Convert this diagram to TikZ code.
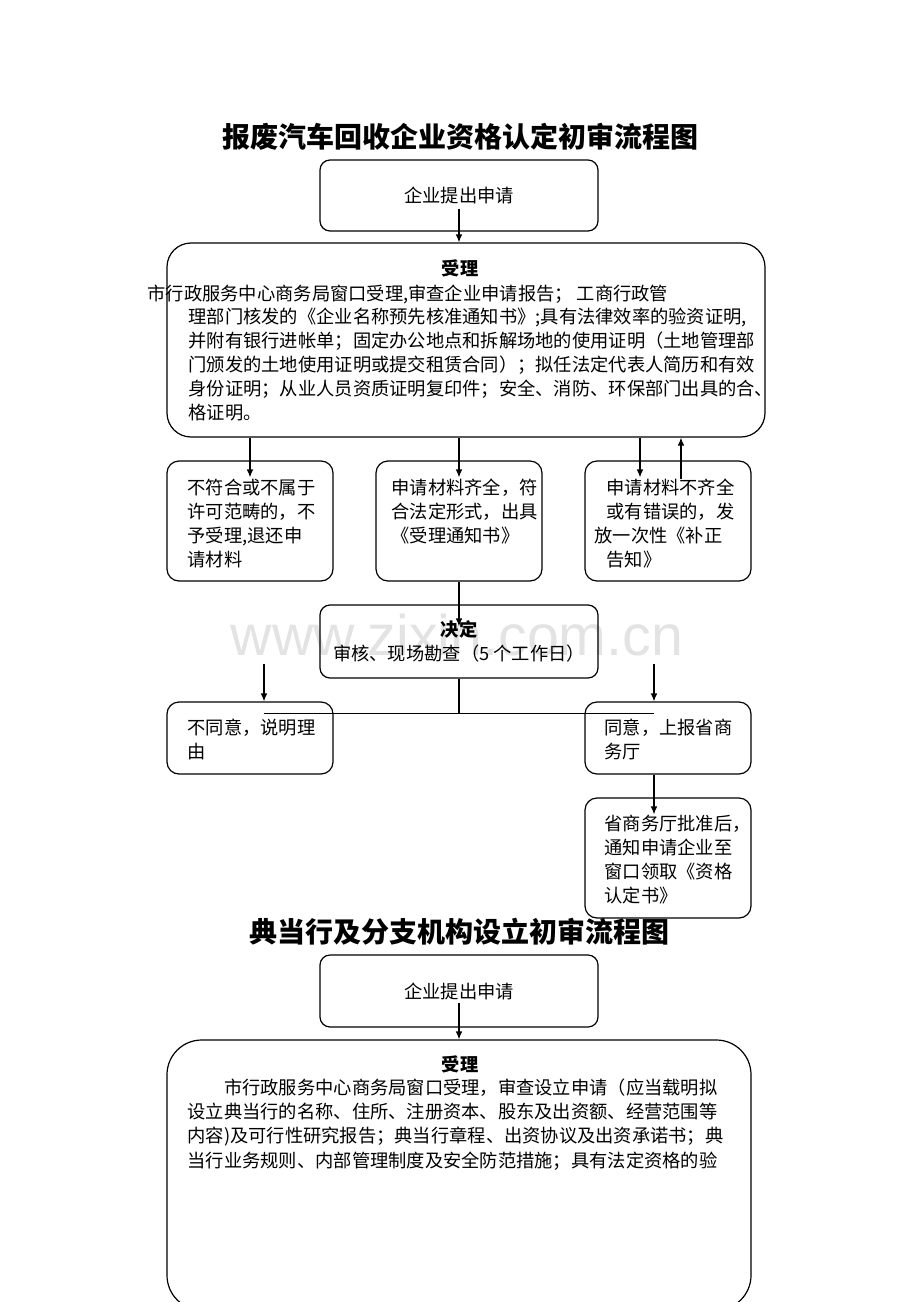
\documentclass[tikz,border=0pt]{standalone}
\usepackage{fontspec}
\setmainfont{Noto Sans CJK SC}
\newfontfamily\markfont{Liberation Sans}
\usetikzlibrary{calc,arrows.meta}

\tikzset{
  box/.style={draw, line width=0.9pt, rounded corners=9pt, inner sep=0pt},
  txt/.style={anchor=north west, inner sep=0pt, align=left, font=\fontsize{13.7}{18}\selectfont},
  head/.style={inner sep=0pt, font=\fontsize{13.7}{18}\selectfont},
  title/.style={inner sep=0pt, font=\fontsize{21}{24}\selectfont\bfseries},
}

\begin{document}
\begin{tikzpicture}[x=0.75pt, y=-0.75pt, >={Latex[length=6pt,width=5pt]}, line width=0.9pt]
\useasboundingbox (0,0) rectangle (920,1302);

% Watermark
\node[text=gray!22, font=\fontsize{43}{43}\selectfont\markfont] (mark) at (457,635) {www.zixin.com.cn};

% ---- First chart ----
\node[title] (title1) at (460,137) {报废汽车回收企业资格认定初审流程图};

% Application
\node[box, head, rounded corners=7.5pt, minimum width=208.5pt, minimum height=53.25pt]
    (apply1) at (459,195.5) {企业提出申请};

% Acceptance
\node[box, rounded corners=18pt, minimum width=448.5pt, minimum height=145.5pt]
    (accept1) at (466,340) {};
\node[head, font=\fontsize{13.7}{18}\selectfont\bfseries] (accepthead1) at (460,268) {受理};
\node[txt] (acceptline1) at (147,284) {市行政服务中心商务局窗口受理,审查企业申请报告； 工商行政管};
\node[txt] (acceptbody1) at (188,307)
{理部门核发的《企业名称预先核准通知书》;具有法律效率的验资证明,\\
并附有银行进帐单；固定办公地点和拆解场地的使用证明（土地管理部\\
门颁发的土地使用证明或提交租赁合同）；拟任法定代表人简历和有效\\
身份证明；从业人员资质证明复印件；安全、消防、环保部门出具的合、\\
格证明。};

\draw[->] ($(apply1.center)+(0,13)$) -- (accept1.north -| apply1);

% Three outcomes
\node[box, minimum width=124.5pt, minimum height=90pt] (reject1) at (250,521) {};
\node[box, minimum width=124.5pt, minimum height=90pt] (pass1) at (459,521) {};
\node[box, minimum width=124.5pt, minimum height=90pt] (fix1) at (668,521) {};

\node[txt] (rejecttxt1) at (187,478)
{不符合或不属于\\
许可范畴的，不\\
予受理,退还申\\
请材料};
\node[txt] (passtxt1) at (391,478)
{申请材料齐全，符\\
合法定形式，出具\\
《受理通知书》};
\node[txt] (fixtxt1) at (594,478)
{\hspace*{9pt}申请材料不齐全\\
\hspace*{9pt}或有错误的，发\\
放一次性《补正\\
\hspace*{9pt}告知》};

\coordinate (fixin1) at ($(fix1.north)+(-28,17)$);
\coordinate (fixout1) at ($(fix1.north)+(13,19)$);
\draw[->] (accept1.south -| reject1) -- ($(reject1.north)+(0,17)$);
\draw[->] (accept1.south -| pass1) -- ($(pass1.north)+(0,17)$);
\draw[->] (accept1.south -| fixin1) -- (fixin1);
\draw[->] (fixout1) -- (accept1.south -| fixout1);

% Decision
\node[box, rounded corners=7.5pt, minimum width=208.5pt, minimum height=54.75pt,
      align=center, font=\fontsize{13.7}{18.5}\selectfont]
    (decide1) at (459,641.5) {{\bfseries 决定}\\审核、现场勘查（5 个工作日）};
\draw[->] (pass1.south) -- ($(decide1.north)+(0,22)$);

% Split
\node[box, minimum width=124.5pt, minimum height=54pt] (refuse1) at (250,738) {};
\node[box, minimum width=124.5pt, minimum height=54pt] (agree1) at (668,738) {};
\node[txt] (refusetxt1) at (187,718) {不同意，说明理\\由};
\node[txt] (agreetxt1) at (604,718) {同意，上报省商\\务厅};

\coordinate (split1) at ($(decide1.south)+(0,35)$);
\coordinate (noin1) at ($(refuse1.north)+(14,-37)$);
\coordinate (yesin1) at ($(agree1.north)+(-14,-37)$);
\draw (decide1.south) -- (split1);
\draw (split1 -| noin1) -- (split1 -| yesin1);
\draw[->] (noin1) -- (noin1 |- refuse1.north);
\draw[->] (yesin1) -- (yesin1 |- agree1.north);

% Province approval
\node[box, minimum width=124.5pt, minimum height=90pt] (notify1) at (668,858) {};
\node[txt] (notifytxt1) at (604,814)
{省商务厅批准后，\\
通知申请企业至\\
窗口领取《资格\\
认定书》};
\draw[->] ($(agree1.south)+(-14,0)$) -- ($(notify1.north)+(-14,17)$);

% ---- Second chart ----
\node[title] (title2) at (459,932) {典当行及分支机构设立初审流程图};

\node[box, head, rounded corners=7.5pt, minimum width=208.5pt, minimum height=54pt]
    (apply2) at (459,991) {企业提出申请};

\node[box, rounded corners=26pt, minimum width=438pt, minimum height=202.5pt]
    (accept2) at (459,1175) {};
\node[head, font=\fontsize{13.7}{18}\selectfont\bfseries] (accepthead2) at (460,1064) {受理};
\node[txt, font=\fontsize{13.7}{18.2}\selectfont] (acceptbody2) at (187,1078)
{\hspace*{2em}市行政服务中心商务局窗口受理，审查设立申请（应当载明拟\\
设立典当行的名称、住所、注册资本、股东及出资额、经营范围等\\
内容)及可行性研究报告；典当行章程、出资协议及出资承诺书；典\\
当行业务规则、内部管理制度及安全防范措施；具有法定资格的验};

\draw[->] ($(apply2.center)+(0,12)$) -- (accept2.north);

\end{tikzpicture}
\end{document}
